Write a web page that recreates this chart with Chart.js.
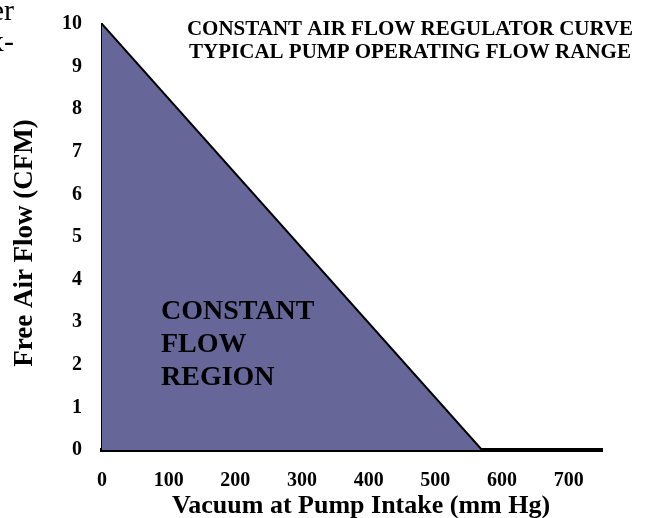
<!DOCTYPE html>
<html>
<head>
<meta charset="utf-8">
<script src="https://cdn.jsdelivr.net/npm/chart.js@4.4.0/dist/chart.umd.min.js"></script>
<style>
  body { margin: 0; background: #fff; }
  #chartId { display: block; }
</style>
</head>
<body>
<canvas id="chartId" width="655" height="518"></canvas>
<script>
// data
const vacuum = [0, 570];          // mm Hg
const freeAirFlow = [10, 0];      // CFM
const xTicks = [0, 100, 200, 300, 400, 500, 600, 700];
const yTicks = [0, 1, 2, 3, 4, 5, 6, 7, 8, 9, 10];
const titleLines = ["CONSTANT AIR FLOW REGULATOR CURVE", "TYPICAL PUMP OPERATING FLOW RANGE"];
const regionLines = ["CONSTANT", "FLOW", "REGION"];
const xTitle = "Vacuum at Pump Intake (mm Hg)";
const yTitle = "Free Air Flow (CFM)";

const serif = '"Liberation Serif", "Times New Roman", serif';
Chart.defaults.font.family = serif;
Chart.defaults.color = "#000";

// text that sits on the picture (titles, region label, cut-off page text)
const textPlugin = {
    id: "textPlugin",
    afterDraw(chart) {
        const ctx = chart.ctx;
        ctx.save();
        ctx.fillStyle = "#000";
        ctx.textBaseline = "alphabetic";

        // bits of the surrounding page
        ctx.font = "30px " + serif;
        ctx.textAlign = "right";
        ctx.fillText("er", 14, 20);
        ctx.fillText("x-", 14, 51);

        ctx.font = "bold 21px " + serif;
        ctx.textAlign = "center";
        ctx.fillText(titleLines[0], 410, 35);
        ctx.fillText(titleLines[1], 410, 58);

        ctx.font = "bold 28px " + serif;
        ctx.textAlign = "left";
        regionLines.forEach((t, i) => ctx.fillText(t, 161, 319 + i * 33));

        ctx.font = "bold 26px " + serif;
        ctx.textAlign = "center";
        ctx.fillText(xTitle, 361, 513);

        ctx.translate(32, 243);
        ctx.rotate(-Math.PI / 2);
        ctx.font = "bold 27px " + serif;
        ctx.fillText(yTitle, 0, 0);
        ctx.restore();
    }
};

var chrt = document.getElementById("chartId").getContext("2d");
var chartId = new Chart(chrt, {
    type: 'line',
    data: {
        datasets: [{
            data: vacuum.map((v, i) => ({ x: v, y: freeAirFlow[i] })),
            fill: 'origin',
            backgroundColor: '#666699',
            borderColor: '#000',
            borderWidth: 2,
            pointRadius: 0,
            tension: 0,
        }],
    },
    options: {
        responsive: false,
        animation: false,
        layout: { padding: { left: 0, top: 13, right: 53, bottom: 0 } },
        plugins: {
            legend: { display: false },
            tooltip: { enabled: false },
        },
        scales: {
            x: {
                type: 'linear',
                min: 0,
                max: 750,
                z: 1,
                grid: { display: false },
                border: { display: true, color: '#000', width: 4 },
                afterFit: (s) => { s.height = 68; },
                afterBuildTicks: (s) => { s.ticks = xTicks.map(v => ({ value: v })); },
                ticks: {
                    padding: 11,
                    maxRotation: 0,
                    font: { size: 20, weight: 'bold' },
                },
            },
            y: {
                min: 0,
                max: 10,
                z: 1,
                grid: { display: false },
                border: { display: true, color: '#000', width: 2 },
                afterFit: (s) => { s.width = 102; },
                afterBuildTicks: (s) => { s.ticks = yTicks.map(v => ({ value: v })); },
                ticks: {
                    padding: 12,
                    font: { size: 20, weight: 'bold' },
                },
            },
        },
    },
    plugins: [textPlugin],
});
</script>
</body>
</html>
